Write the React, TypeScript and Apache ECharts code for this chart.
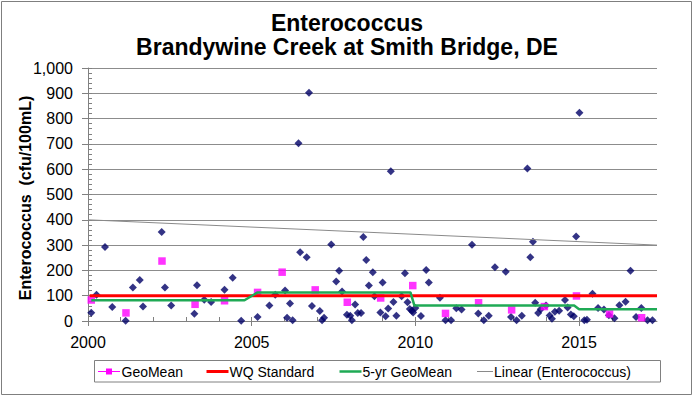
import React, { useEffect, useRef } from "react";
import * as echarts from "echarts";

const sampleYears = [
  2000.10, 2000.26, 2000.52, 2000.74, 2001.15, 2001.37, 2001.58, 2001.68, 2002.25, 2002.35,
  2002.54, 2003.25, 2003.33, 2003.55, 2003.76, 2004.17, 2004.42, 2004.68, 2005.18, 2005.54,
  2005.72, 2006.02, 2006.08, 2006.17, 2006.25, 2006.43, 2006.48, 2006.68, 2006.75, 2006.84,
  2007.08, 2007.15, 2007.21, 2007.43, 2007.58, 2007.67, 2007.76, 2007.91, 2008.01, 2008.06,
  2008.16, 2008.24, 2008.34, 2008.41, 2008.50, 2008.58, 2008.70, 2008.75, 2008.93, 2009.00,
  2009.09, 2009.17, 2009.25, 2009.33, 2009.42, 2009.58, 2009.68, 2009.76, 2009.83, 2009.89,
  2009.93, 2010.00, 2010.17, 2010.33, 2010.41, 2010.75, 2010.92, 2011.09, 2011.25, 2011.41,
  2011.73, 2011.92, 2012.09, 2012.24, 2012.43, 2012.76, 2012.92, 2013.09, 2013.25, 2013.42,
  2013.51, 2013.59, 2013.66, 2013.75, 2013.83, 2013.99, 2014.10, 2014.17, 2014.26, 2014.39,
  2014.57, 2014.65, 2014.75, 2014.84, 2014.91, 2015.01, 2015.16, 2015.24, 2015.41, 2015.58,
  2015.76, 2015.91, 2016.08, 2016.23, 2016.42, 2016.57, 2016.74, 2016.90, 2017.09, 2017.24,
];
const sampleValues = [
  33, 104, 292, 55, 1, 132, 162, 57, 352, 132,
  61, 29, 141, 84, 75, 124, 171, 1, 16, 61,
  104, 121, 13, 69, 3, 703, 272, 252, 902, 59,
  40, 3, 13, 302, 156, 199, 117, 25, 21, 3,
  65, 32, 32, 332, 241, 140, 193, 98, 34, 152,
  19, 49, 592, 75, 21, 98, 189, 74, 47, 41,
  34, 51, 20, 202, 152, 92, 3, 3, 50, 45,
  301, 30, 3, 21, 212, 195, 16, 3, 21, 603,
  252, 313, 72, 32, 46, 61, 22, 9, 37, 41,
  83, 53, 26, 19, 334, 823, 3, 5, 108, 51,
  45, 23, 11, 62, 76, 199, 16, 51, 3, 3,
];

const geoYears = [
  2000.10, 2001.16, 2002.26, 2003.27, 2004.17, 2005.18, 2005.93, 2006.94, 2007.92,
  2008.94, 2009.92, 2010.92, 2011.93, 2012.94, 2013.94, 2014.92, 2015.93, 2016.91,
];
const geoValues = [83, 32, 237, 66, 80, 113, 193, 123, 74, 91, 140, 30, 72, 44, 57, 99, 28, 13];

const fiveYrYears = [2000.10, 2004.78, 2005.18, 2009.85, 2009.97, 2014.85, 2015.0, 2017.38];
const fiveYrValues = [82, 82, 113, 113, 61, 61, 46, 46];

const wqYears = [2000.05, 2017.38];
const wqValues = [100, 100];

const trendYears = [2000, 2017.38];
const trendValues = [400, 300];

const xMin = 2000;
const xMax = 2017.38;
const yearTicks = [2000, 2001, 2002, 2003, 2004, 2005, 2006, 2007, 2008, 2009, 2010, 2011, 2012, 2013, 2014, 2015, 2016, 2017];
const yearLabels = [2000, 2005, 2010, 2015];
const yTickValues = [0, 100, 200, 300, 400, 500, 600, 700, 800, 900, 1000];
const yTickLabels = ["0", "100", "200", "300", "400", "500", "600", "700", "800", "900", "1,000"];

const legendNames = ["GeoMean", "WQ Standard", "5-yr GeoMean", "Linear (Enterococcus)"];

const zip = (a: number[], b: number[]) => a.map((v, i) => [v, b[i]]);

const FONT = "'Liberation Sans', Arial, sans-serif";
const C_DIAMOND = "#000066";
const C_GEO = "#ff00ff";
const C_WQ = "#ff0000";
const C_5YR = "#1faa55";
const C_TREND = "#8a8a8a";
const C_AXIS = "#808080";

export default function App() {
  const ref = useRef<HTMLDivElement>(null);
  useEffect(() => {
    if (!ref.current) return;
    const chart = echarts.init(ref.current, undefined, { renderer: "svg" });

    const legendY = 371.5;
    const legendText = (x: number, text: string) => ({
      type: "text",
      x,
      y: legendY,
      style: { text, font: `14px ${FONT}`, fill: "#000", textAlign: "left", textVerticalAlign: "middle" },
    });
    const legendLine = (x1: number, x2: number, color: string, w: number) => ({
      type: "line",
      shape: { x1, y1: legendY, x2, y2: legendY },
      style: { stroke: color, lineWidth: w },
    });

    chart.setOption({
      animation: false,
      textStyle: { fontFamily: FONT },
      title: {
        text: "Enterococcus\nBrandywine Creek at Smith Bridge, DE",
        left: "center",
        top: 6,
        textStyle: { fontSize: 23, fontWeight: "bold", color: "#000", lineHeight: 24, fontFamily: FONT },
      },
      grid: { left: 88, right: 37, top: 68, bottom: 75 },
      xAxis: [
        {
          type: "value",
          min: xMin,
          max: xMax,
          interval: 1,
          axisLine: { show: true, lineStyle: { color: C_AXIS, width: 1 } },
          axisTick: { show: true, inside: true, length: 4, customValues: yearTicks, lineStyle: { color: C_AXIS } },
          axisLabel: { fontSize: 16, color: "#000", margin: 13, customValues: yearLabels, formatter: (v: number) => String(Math.round(v)) },
          splitLine: { show: false },
        },
        {
          type: "value",
          position: "bottom",
          min: xMin,
          max: xMax,
          interval: 1,
          axisLine: { show: false },
          axisTick: { show: true, inside: false, length: 5, customValues: yearLabels, lineStyle: { color: C_AXIS } },
          axisLabel: { show: false },
          splitLine: { show: false },
        },
      ],
      yAxis: [
        {
          type: "value",
          min: 0,
          max: 1000,
          interval: 100,
          axisLine: { show: true, lineStyle: { color: C_AXIS, width: 1 } },
          axisTick: { show: true, inside: true, length: 4, lineStyle: { color: C_AXIS } },
          minorTick: { show: true, splitNumber: 5, length: 4, lineStyle: { color: C_AXIS } },
          axisLabel: {
            fontSize: 16,
            color: "#000",
            margin: 15,
            customValues: yTickValues,
            formatter: (v: number) => yTickLabels[Math.round(v / 100)] ?? "",
          },
          splitLine: { show: true, lineStyle: { color: "#8c8c8c", width: 1 } },
        },
        {
          type: "value",
          position: "left",
          min: 0,
          max: 1000,
          interval: 100,
          axisLine: { show: false },
          axisTick: { show: true, inside: false, length: 6, customValues: yTickValues, lineStyle: { color: C_AXIS } },
          axisLabel: { show: false },
          splitLine: { show: false },
        },
      ],
      graphic: [
        {
          type: "rect",
          shape: { x: 1.5, y: 1.5, width: 690, height: 393 },
          style: { fill: "none", stroke: "#7f7f7f", lineWidth: 1 },
          silent: true,
        },
        {
          type: "text",
          x: 25,
          y: 198,
          rotation: Math.PI / 2,
          style: {
            text: "Enterococcus  (cfu/100mL)",
            font: `bold 16px ${FONT}`,
            fill: "#000",
            textAlign: "center",
            textVerticalAlign: "middle",
          },
        },
        {
          type: "rect",
          shape: { x: 94.5, y: 360.5, width: 566, height: 21.5 },
          style: { fill: "none", stroke: C_AXIS, lineWidth: 1 },
        },
        legendLine(98, 120, C_GEO, 1),
        { type: "rect", shape: { x: 106, y: legendY - 3, width: 6, height: 6 }, style: { fill: C_GEO } },
        legendText(121.5, legendNames[0]),
        legendLine(206.5, 228.5, C_WQ, 3),
        legendText(229.5, legendNames[1]),
        legendLine(339.5, 361.5, C_5YR, 2.5),
        legendText(362.5, legendNames[2]),
        legendLine(477, 493, C_TREND, 1),
        legendText(494, legendNames[3]),
      ],
      series: [
        {
          name: "Enterococcus",
          type: "scatter",
          symbol: "diamond",
          symbolSize: 8,
          itemStyle: { color: C_DIAMOND },
          data: zip(sampleYears, sampleValues),
          z: 2,
        },
        {
          name: legendNames[0],
          type: "scatter",
          symbol: "rect",
          symbolSize: 7.5,
          itemStyle: { color: C_GEO },
          data: zip(geoYears, geoValues),
          z: 3,
        },
        {
          name: legendNames[1],
          type: "line",
          symbol: "none",
          itemStyle: { color: C_WQ },
          lineStyle: { color: C_WQ, width: 3 },
          data: zip(wqYears, wqValues),
          z: 4,
        },
        {
          name: legendNames[2],
          type: "line",
          symbol: "none",
          itemStyle: { color: C_5YR },
          lineStyle: { color: C_5YR, width: 2.5 },
          data: zip(fiveYrYears, fiveYrValues),
          z: 5,
        },
        {
          name: legendNames[3],
          type: "line",
          symbol: "none",
          itemStyle: { color: C_TREND },
          lineStyle: { color: C_TREND, width: 1 },
          data: zip(trendYears, trendValues),
          z: 6,
        },
      ],
    });
    return () => chart.dispose();
  }, []);
  return <div ref={ref} style={{ position: "absolute", left: 0, top: 0, width: 694, height: 396 }} />;
}
